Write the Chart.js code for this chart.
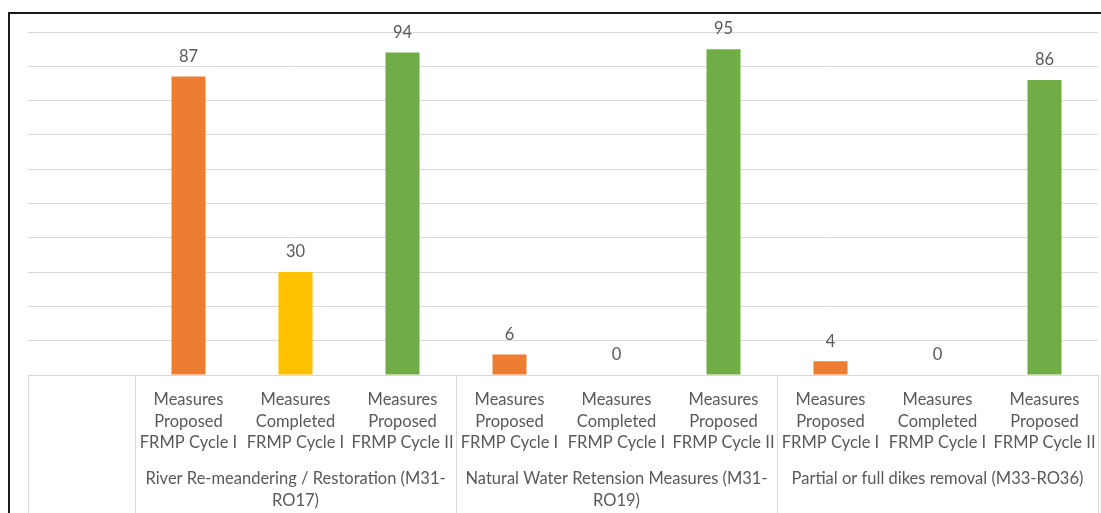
<!DOCTYPE html>
<html>
<head>
<meta charset="utf-8">
<script src="https://cdn.jsdelivr.net/npm/chart.js@4.4.0/dist/chart.umd.min.js"></script>
<style>
  html, body { margin: 0; padding: 0; background: #fff; overflow: hidden; width: 1101px; height: 513px; }
  #frame { position: absolute; left: 8px; top: 12px; width: 1200px; height: 600px;
           border-top: 2px solid #1a1a1a; border-left: 2px solid #1a1a1a; }
  #wrap { position: absolute; left: 0; top: 0; width: 1101px; height: 540px; }
</style>
</head>
<body>
<div id="frame"></div>
<div id="wrap"><canvas id="c" width="1101" height="540"></canvas></div>
<script>
// Sub-category labels (already wrapped into lines), one per bar slot
const subCategories = [
  [],
  ['Measures', 'Proposed', 'FRMP Cycle I'],
  ['Measures', 'Completed', 'FRMP Cycle I'],
  ['Measures', 'Proposed', 'FRMP Cycle II'],
  ['Measures', 'Proposed', 'FRMP Cycle I'],
  ['Measures', 'Completed', 'FRMP Cycle I'],
  ['Measures', 'Proposed', 'FRMP Cycle II'],
  ['Measures', 'Proposed', 'FRMP Cycle I'],
  ['Measures', 'Completed', 'FRMP Cycle I'],
  ['Measures', 'Proposed', 'FRMP Cycle II']
];

// Measure groups and how many sub-categories each one covers
const groupNames = [
  [],
  ['River Re-meandering / Restoration (M31-', 'RO17)'],
  ['Natural Water Retension Measures (M31-', 'RO19)'],
  ['Partial or full dikes removal (M33-RO36)']
];
const groupSpans = [1, 3, 3, 3];

// Number of measures
const values = [null, 87, 30, 94, 6, 0, 95, 4, 0, 86];

// Colour per measure type
const typeColors = {
  'Proposed FRMP Cycle I': '#ED7D31',
  'Completed FRMP Cycle I': '#FFC000',
  'Proposed FRMP Cycle II': '#70AD47'
};
const barColors = subCategories.map(l => typeColors[l.slice(1).join(' ')] || 'transparent');

// Group labels sit under the middle slot of their group
const groupTickLabels = [];
groupSpans.forEach((span, g) => {
  for (let k = 0; k < span; k++) {
    groupTickLabels.push(k === Math.floor((span - 1) / 2) ? groupNames[g] : '');
  }
});

const FONT = 'Lato, "Open Sans", sans-serif';
const TEXT = '#595959';
const LINE = '#d9d9d9';

// Keep the plot full width: the table cells hold the labels, so no edge padding
const fixHeight = h => s => { s.height = h; s.paddingLeft = 0; s.paddingRight = 0; };

// Vertical separators of the category table below the plot
const tableLines = {
  id: 'tableLines',
  afterDraw(chart) {
    const x = chart.scales.x;
    const ctx = chart.ctx;
    const half = (x.getPixelForValue(1) - x.getPixelForValue(0)) / 2;
    const edges = [x.getPixelForValue(0) - half];
    let idx = 0;
    groupSpans.forEach(n => { idx += n; edges.push(x.getPixelForValue(idx - 1) + half); });
    ctx.save();
    ctx.strokeStyle = LINE;
    ctx.lineWidth = 1;
    edges.forEach(px => {
      const p = Math.round(px) + 0.5;
      ctx.beginPath();
      ctx.moveTo(p, x.top);
      ctx.lineTo(p, chart.height);
      ctx.stroke();
    });
    ctx.restore();
  }
};

// Value labels above each bar
const valueLabels = {
  id: 'valueLabels',
  afterDatasetsDraw(chart) {
    const ctx = chart.ctx;
    const meta = chart.getDatasetMeta(0);
    ctx.save();
    ctx.font = '16.5px ' + FONT;
    ctx.fillStyle = TEXT;
    ctx.textAlign = 'center';
    ctx.textBaseline = 'middle';
    meta.data.forEach((bar, i) => {
      if (values[i] === null) return;
      ctx.fillText(String(values[i]), bar.x, bar.y - 20);
    });
    ctx.restore();
  }
};

new Chart(document.getElementById('c'), {
  type: 'bar',
  data: {
    labels: subCategories,
    datasets: [{
      data: values,
      backgroundColor: barColors,
      borderWidth: 0,
      barPercentage: 0.318,
      categoryPercentage: 1
    }]
  },
  options: {
    responsive: false,
    animation: false,
    events: [],
    layout: { padding: { top: 32, left: 28, right: 3, bottom: 0 } },
    plugins: { legend: { display: false }, tooltip: { enabled: false } },
    scales: {
      y: {
        min: 0, max: 100,
        ticks: { display: false, stepSize: 10 },
        border: { display: false },
        grid: { color: LINE, lineWidth: 1, drawTicks: false }
      },
      x: {
        type: 'category',
        offset: true,
        weight: 0,
        grid: { display: false, drawTicks: false },
        border: { display: true, color: LINE },
        ticks: {
          autoSkip: false, maxRotation: 0, minRotation: 0, padding: 14,
          color: TEXT,
          font: { family: FONT, size: 16.5, lineHeight: '21.5px' }
        },
        afterFit: fixHeight(88)
      },
      x2: {
        type: 'category',
        position: 'bottom',
        offset: true,
        weight: 1,
        labels: groupTickLabels,
        grid: { display: false, drawTicks: false },
        border: { display: false },
        ticks: {
          autoSkip: false, maxRotation: 0, minRotation: 0, padding: 4,
          color: TEXT,
          font: { family: FONT, size: 16.5, lineHeight: '22.5px' }
        },
        afterFit: fixHeight(77)
      }
    }
  },
  plugins: [tableLines, valueLabels]
});
</script>
</body>
</html>
